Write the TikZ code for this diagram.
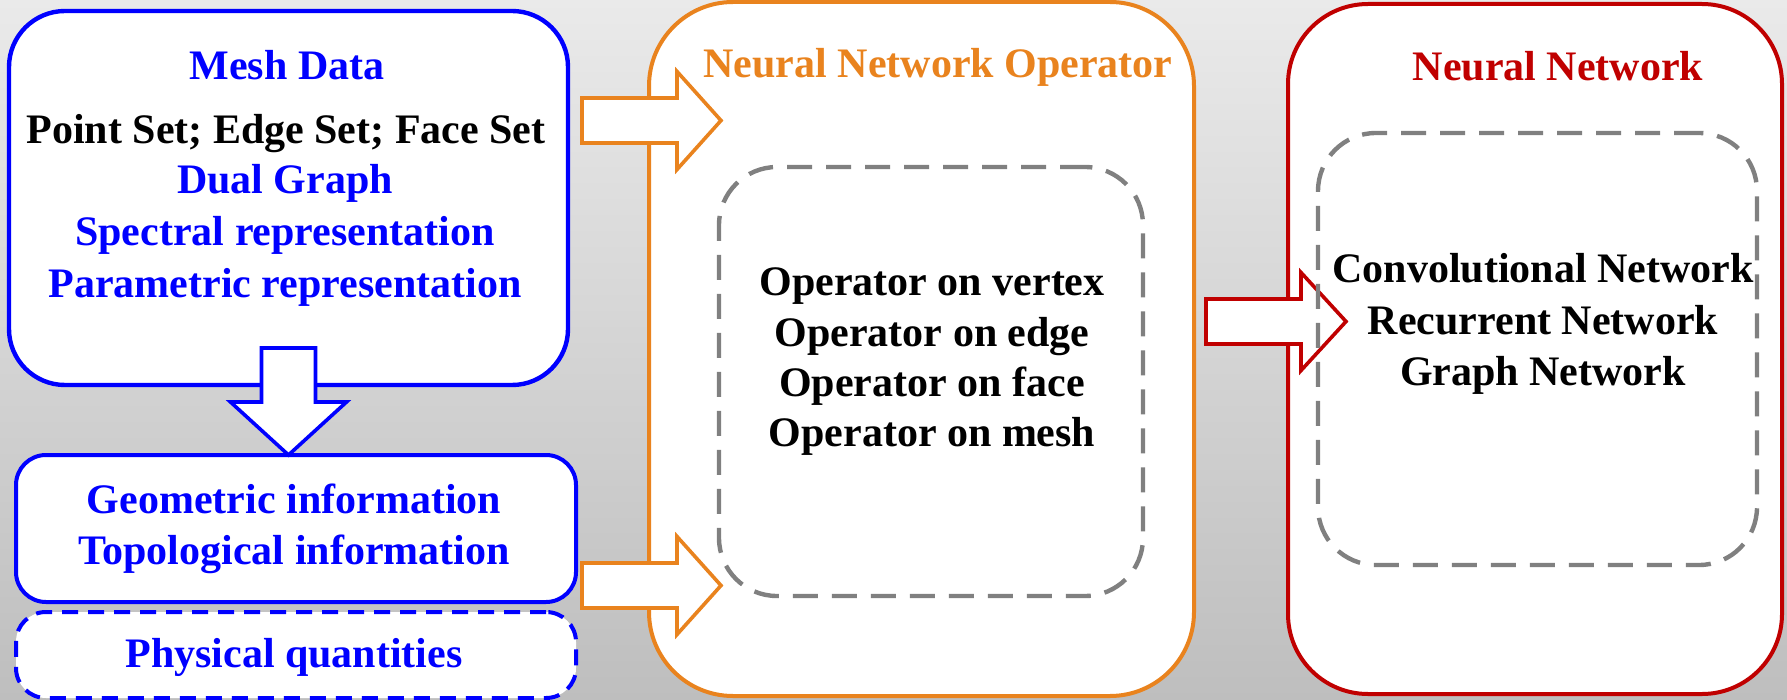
\documentclass[tikz,border=0pt]{standalone}
\usepackage{fontspec}
\setmainfont{Liberation Serif}
\usetikzlibrary{calc}
\definecolor{meshblue}{RGB}{0,0,255}
\definecolor{nnorange}{RGB}{233,131,30}
\definecolor{nnred}{RGB}{192,0,0}
\definecolor{dashgray}{RGB}{128,128,128}
\definecolor{bgtop}{RGB}{234,234,234}
\definecolor{bgbot}{RGB}{190,190,190}
\newcommand\harrow[6]{%
  \draw[barrow,draw=#1] ($(#2)+(0,-#4)$) -- ($(#3)+(-#6,-#4)$) -- ($(#3)+(-#6,-#5)$) -- (#3)
    -- ($(#3)+(-#6,#5)$) -- ($(#3)+(-#6,#4)$) -- ($(#2)+(0,#4)$) -- cycle;}
\begin{document}
\begin{tikzpicture}[x=0.5pt,y=-0.5pt,
  panel/.style={draw, fill=white, line width=2pt, rectangle, inner sep=0pt, outer sep=0pt},
  innerbox/.style={draw=dashgray, line width=2.2pt, dash pattern=on 12.5pt off 7pt, rectangle, inner sep=0pt, outer sep=0pt, rounded corners=29pt},
  txt/.style={font=\fontsize{21}{25}\selectfont\bfseries, anchor=base, inner sep=0pt},
  barrow/.style={fill=white, line width=1.8pt, line join=miter}]

\shade[top color=bgtop, bottom color=bgbot] (0,0) rectangle (1787,700);
\useasboundingbox (0,0) rectangle (1787,700);

% left column
\node[panel, draw=meshblue, line width=2.2pt, rounded corners=28pt, minimum width=279.5pt, minimum height=187pt] (mesh) at (288.5,198) {};
\node[panel, draw=meshblue, rounded corners=15pt, minimum width=280pt, minimum height=73.5pt] (geo) at (296,528.5) {};
\node[panel, draw=meshblue, dash pattern=on 8pt off 5pt, rounded corners=15pt, minimum width=280pt, minimum height=43pt] (phys) at (296,655) {};

% middle panel
\node[panel, draw=nnorange, rounded corners=42pt, minimum width=272.5pt, minimum height=347pt] (nno) at (921.5,349) {};
\node[innerbox, minimum width=212pt, minimum height=214.5pt] (nnoin) at (931,381.5) {};

% right panel
\node[panel, draw=nnred, rounded corners=40pt, minimum width=247pt, minimum height=345pt] (nn) at (1535,349) {};

% block arrows
\draw[barrow, draw=meshblue]
  ($(mesh.south)+(-27,-37)$) -- ($(mesh.south)+(27,-37)$) -- ($(mesh.south)+(27,17)$) -- ($(mesh.south)+(58,17)$)
  -- (mesh.south |- geo.north) -- ($(mesh.south)+(-58,17)$) -- ($(mesh.south)+(-27,17)$) -- cycle;
\coordinate (o1s) at (582,120.5);
\coordinate (o1t) at (721,120.5);
\coordinate (o2s) at (582,585.5);
\coordinate (o2t) at (721,585.5);
\coordinate (r1s) at (1206,321.5);
\coordinate (r1t) at (1346,321.5);
\harrow{nnorange}{o1s}{o1t}{22.5}{49}{44}
\harrow{nnorange}{o2s}{o2t}{22.5}{49}{44}
\harrow{nnred}{r1s}{r1t}{22.5}{49}{45}

\node[innerbox, minimum width=219.5pt, minimum height=216pt] (nnin) at (1537.5,349) {};

% texts: mesh data
\node[txt, text=meshblue] (t1) at (287,80) {Mesh Data};
\node[txt, text=black] (t2) at (286,144) {Point Set; Edge Set; Face Set};
\node[txt, text=meshblue] (t3) at (285,194) {Dual Graph};
\node[txt, text=meshblue] (t4) at (285,246) {Spectral representation};
\node[txt, text=meshblue] (t5) at (285,297) {Parametric representation};
\node[txt, text=meshblue] (t6) at (294,513) {Geometric information};
\node[txt, text=meshblue] (t7) at (294,564) {Topological information};
\node[txt, text=meshblue] (t8) at (294,667) {Physical quantities};

% texts: operator
\node[txt, text=nnorange] (t9) at (938,78) {Neural Network Operator};
\node[txt] (t10) at (932,295) {Operator on vertex};
\node[txt] (t11) at (932,346) {Operator on edge};
\node[txt] (t12) at (932,396) {Operator on face};
\node[txt] (t13) at (932,446) {Operator on mesh};

% texts: network
\node[txt, text=nnred] (t14) at (1558,81) {Neural Network};
\node[txt] (t15) at (1543,283) {Convolutional Network};
\node[txt] (t16) at (1543,334) {Recurrent Network};
\node[txt] (t17) at (1543,385) {Graph Network};
\end{tikzpicture}
\end{document}
